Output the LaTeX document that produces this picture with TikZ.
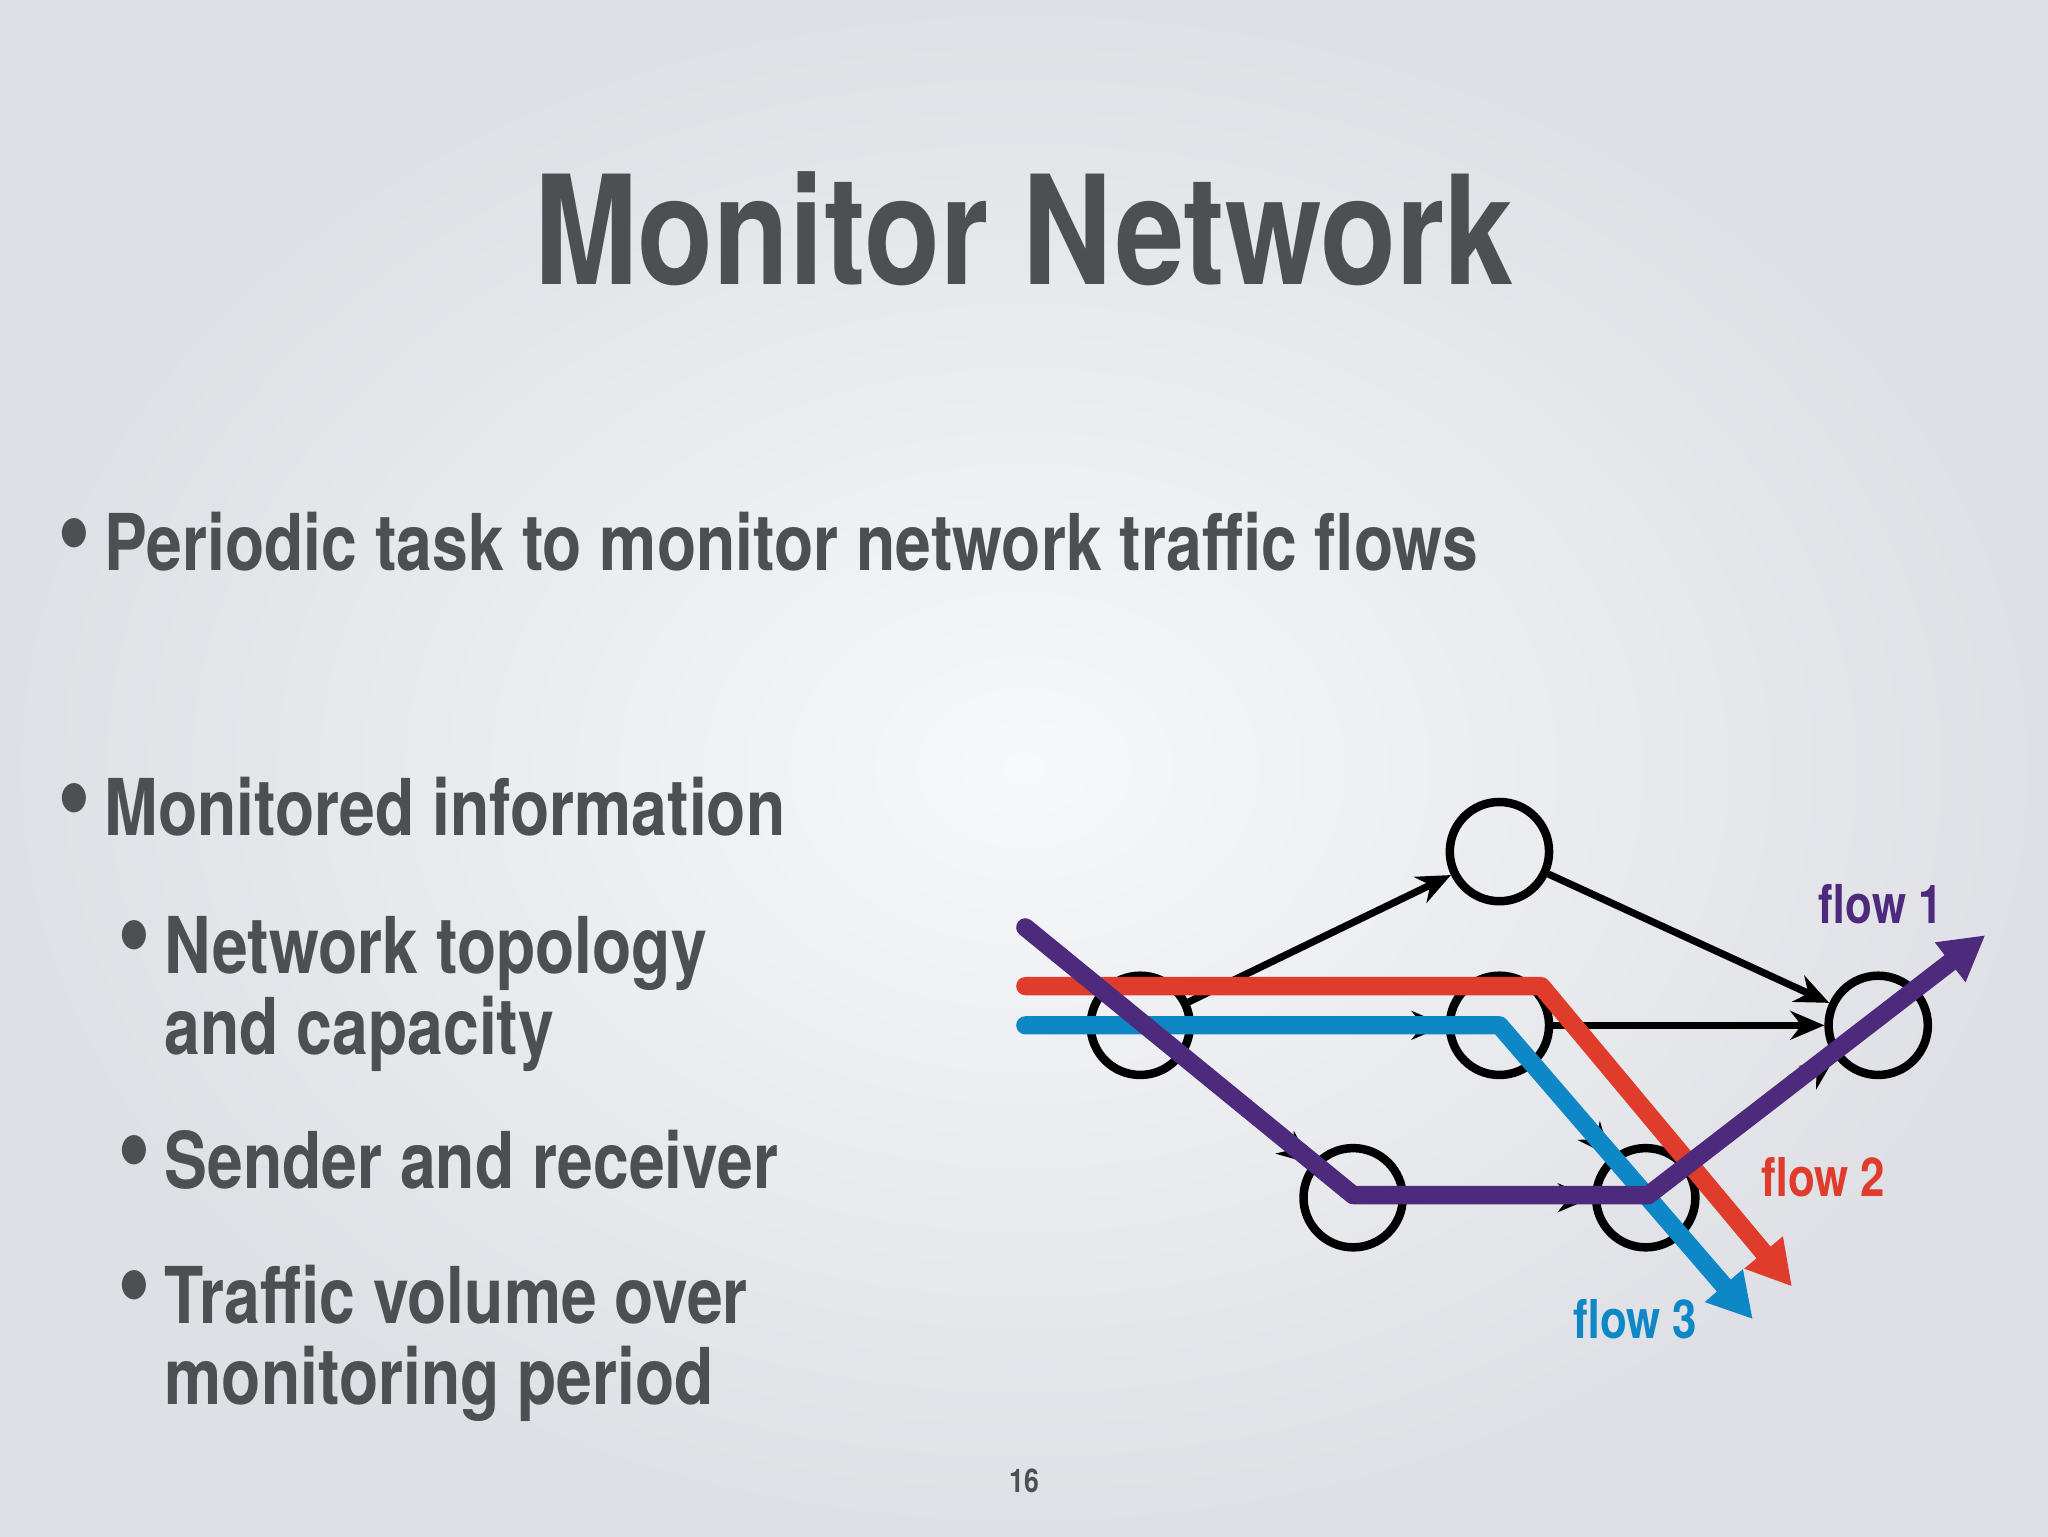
\documentclass[tikz,border=0pt]{standalone}
\usepackage{fontspec}
\setmainfont{TeX Gyre Heros}[FakeStretch=0.82]
\usetikzlibrary{arrows.meta}
\definecolor{txt}{HTML}{4D4F52}
\definecolor{fred}{HTML}{E03C2C}
\definecolor{fblue}{HTML}{0E87C6}
\definecolor{fpur}{HTML}{4E2A7C}
\definecolor{bgin}{HTML}{F7F8FA}
\definecolor{bgout}{HTML}{DEE0E5}
\newcommand{\mybul}{\raisebox{2pt}{\scalebox{1.5}{\textbullet}}\,}
\tikzset{
 nd/.style={circle,draw=black,line width=6.5pt,minimum size=76pt,inner sep=0pt},
 edge/.style={draw=black,line width=5.5pt,-{Stealth[length=26pt,width=22pt]}},
 flow/.style={line width=14pt,-{Triangle[length=34pt,width=36pt]}},
 tx/.style={anchor=base west,text=txt,font=\bfseries\fontsize{60}{62}\selectfont,inner sep=0pt},
 fl/.style={anchor=base,font=\bfseries\fontsize{41}{43}\selectfont,inner sep=0pt}
}
\begin{document}
\begin{tikzpicture}[x=1pt,y=-1pt]
\useasboundingbox (0,0) rectangle (1568,1176);
\shade[inner color=bgin,outer color=bgout] (0,0) rectangle (1568,1176);
\node[anchor=base,text=txt,font=\bfseries\fontsize{116}{118}\selectfont,inner sep=0pt] (title) at (784,218) {Monitor Network};
\node[tx] (b1) at (44,437) {\mybul Periodic task to monitor network traffic flows};
\node[tx] (b2) at (44,640) {\mybul Monitored information};
\node[tx] (s1) at (90,745) {\mybul Network topology};
\node[tx] (s1b) at (126,807) {and capacity};
\node[tx] (s2) at (90,910) {\mybul Sender and receiver};
\node[tx] (s3) at (90,1013) {\mybul Traffic volume over};
\node[tx] (s3b) at (126,1075) {monitoring period};
\node[anchor=base,text=txt,font=\bfseries\fontsize{25}{26}\selectfont] (pg) at (784,1143) {16};
\node[nd] (A) at (873,785) {};
\node[nd] (B) at (1148,652) {};
\node[nd] (C) at (1148,785) {};
\node[nd] (D) at (1036,917) {};
\node[nd] (E) at (1260,917) {};
\node[nd] (F) at (1438,785) {};
\draw[edge] (A) -- (B);
\draw[edge] (B) -- (F);
\draw[edge] (C) -- (F);
\draw[edge] (A) -- (C);
\draw[edge] (A) -- (D);
\draw[edge] (D) -- (E);
\draw[edge] (C) -- (E);
\draw[edge] (E) -- (F);
\coordinate (r0) at (785,755); \coordinate (r1) at (1180,755); \coordinate (r2) at (1372,985);
\coordinate (c0) at (785,785); \coordinate (c1) at (1148,785); \coordinate (c2) at (1342,1010);
\coordinate (p0) at (785,710); \coordinate (p1) at (1036,915); \coordinate (p2) at (1262,915); \coordinate (p3) at (1520,716);
\draw[flow,fred,line join=round,line cap=round] (r0) -- (r1) -- (r2);
\draw[flow,fblue,line join=round,line cap=round] (c0) -- (c1) -- (c2);
\draw[flow,fpur,line join=round,line cap=round] (p0) -- (p1) -- (p2) -- (p3);
\node[fl,text=fpur] (l1) at (1440,707) {flow 1};
\node[fl,text=fred] (l2) at (1396,916) {flow 2};
\node[fl,text=fblue] (l3) at (1252,1025) {flow 3};
\end{tikzpicture}
\end{document}
